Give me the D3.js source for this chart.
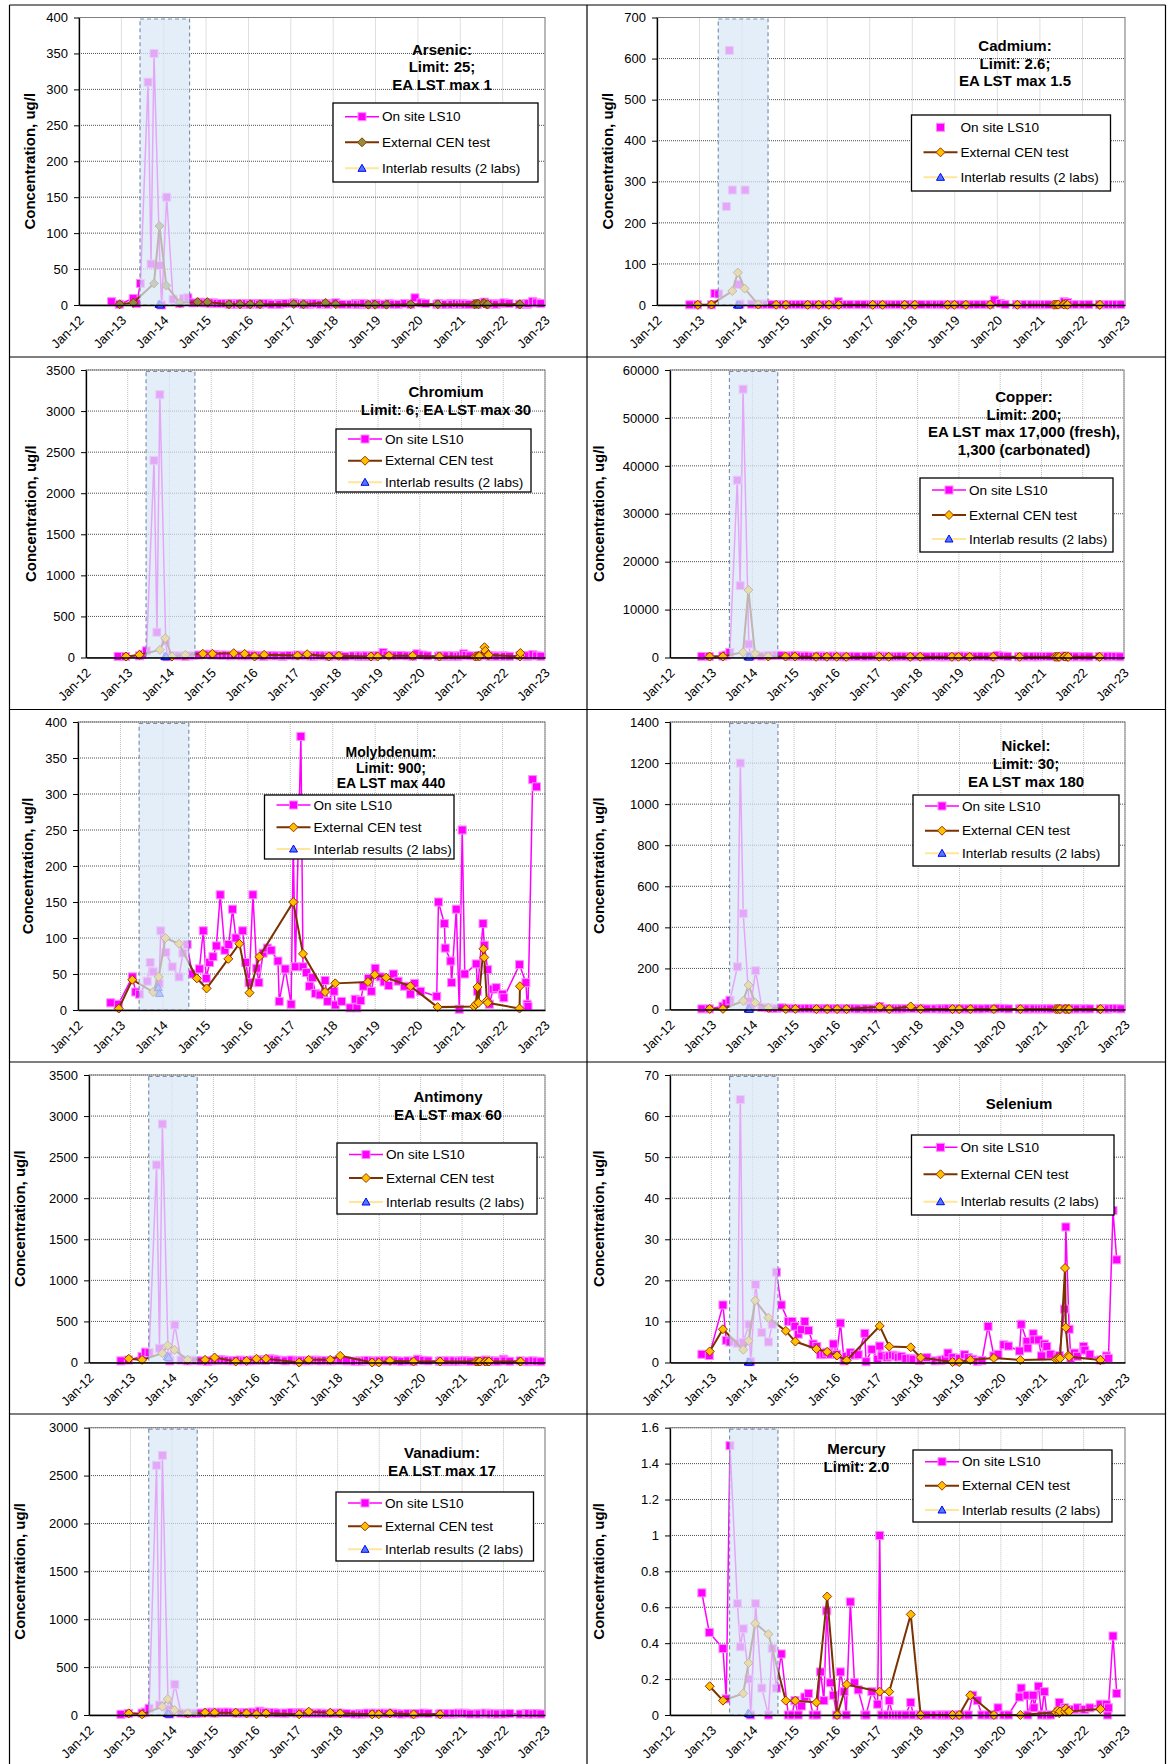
<!DOCTYPE html>
<html lang="en">
<head>
<meta charset="utf-8">
<title>Leachate concentrations by metal</title>
<script src="https://cdn.jsdelivr.net/npm/d3@7"></script>
<style>
  body { margin: 0; background: #fff; }
  svg text { font-family: "Liberation Sans", Arial, sans-serif; }
</style>
</head>
<body>
<svg width="1168" height="1764"></svg>
<script>

// ---- data (decimal years) ----
var yearTicks = [2012, 2013, 2014, 2015, 2016, 2017, 2018, 2019, 2020, 2021, 2022, 2023];
var yearLabels = ["Jan-12", "Jan-13", "Jan-14", "Jan-15", "Jan-16", "Jan-17",
                  "Jan-18", "Jan-19", "Jan-20", "Jan-21", "Jan-22", "Jan-23"];
var trialPeriod = [2013.44, 2014.61];
var legendLabels = ["On site LS10", "External CEN test", "Interlab results (2 labs)"];
var yTitle = "Concentration, ug/l";

var metals = ["Arsenic", "Cadmium", "Chromium", "Copper", "Molybdenum",
              "Nickel", "Antimony", "Selenium", "Vanadium", "Mercury"];
var titleLines = [
  ["Arsenic:", "Limit: 25;", "EA LST max 1"],
  ["Cadmium:", "Limit: 2.6;", "EA LST max 1.5"],
  ["Chromium", "Limit: 6; EA LST max 30"],
  ["Copper:", "Limit: 200;", "EA LST max 17,000 (fresh),", "1,300 (carbonated)"],
  ["Molybdenum:", "Limit: 900;", "EA LST max 440"],
  ["Nickel:", "Limit: 30;", "EA LST max 180"],
  ["Antimony", "EA LST max 60"],
  ["Selenium"],
  ["Vanadium:", "EA LST max 17"],
  ["Mercury", "Limit: 2.0"]
];
var yMax  = [400, 700, 3500, 60000, 400, 1400, 3500, 70, 3000, 1.6];
var yStep = [50, 100, 500, 10000, 50, 200, 500, 10, 500, 0.2];

// on-site LS10 sampling dates
var lsDates = [
  2012.77, 2012.95, 2013.28, 2013.36, 2013.45, 2013.63, 2013.70, 2013.77, 2013.91, 2013.95,
  2014.07, 2014.22, 2014.38, 2014.47, 2014.57, 2014.69, 2014.86, 2014.95, 2015.02, 2015.10,
  2015.18, 2015.26, 2015.35, 2015.46, 2015.55, 2015.64, 2015.72, 2015.79, 2015.88, 2015.95,
  2016.03, 2016.12, 2016.21, 2016.26, 2016.36, 2016.46, 2016.55, 2016.71, 2016.74, 2016.88,
  2017.02, 2017.07, 2017.12, 2017.25, 2017.30, 2017.38, 2017.45, 2017.52, 2017.59, 2017.70,
  2017.82, 2017.88, 2018.03, 2018.06, 2018.21, 2018.41, 2018.53, 2018.57, 2018.66, 2018.72,
  2018.84, 2018.91, 2019.00, 2019.12, 2019.21, 2019.32, 2019.43, 2019.54, 2019.69, 2019.83,
  2019.93, 2020.07, 2020.18, 2020.45, 2020.49, 2020.63, 2020.65, 2020.78, 2020.80, 2020.91,
  2020.98, 2021.05, 2021.11, 2021.20, 2021.38, 2021.41, 2021.54, 2021.57, 2021.65, 2021.69,
  2021.78, 2021.85, 2022.00, 2022.03, 2022.15, 2022.40, 2022.55, 2022.58, 2022.60, 2022.71,
  2022.80, 2022.90
];

var lsArsenic = [
  4.6, 1, 9, 2, 30, 310, 57, 350, 55, 0,
  150, 8, 2, 9, 10, 3, 4, 3, 3, 2,
  3, 2, 2, 2, 1, 2, 1, 2, 1, 2,
  1, 2, 2, 1, 2, 2, 1, 2, 1, 2,
  2, 3, 2, 2, 1, 2, 1, 2, 2, 1,
  2, 1, 2, 3, 1, 1, 2, 1, 1, 2,
  1, 1, 2, 1, 1, 2, 1, 1, 2, 1,
  10, 3, 2, 1, 2, 1, 1, 2, 1, 2,
  1, 2, 1, 1, 2, 1, 3, 4, 2, 1,
  2, 1, 2, 3, 2, 1, 2, 1, 2, 5,
  3, 2
];
var lsCadmium = [
  0.5, 0.5, 0.5, 28, 27, 240, 620, 280, 50, 2,
  280, 2, 2, 2, 2, 1, 1, 1, 1, 1,
  1, 1, 1, 1, 1, 1, 1, 1, 1, 1,
  1, 1, 1, 8, 1, 1, 1, 1, 1, 1,
  1, 1, 1, 1, 1, 1, 1, 1, 1, 1,
  1, 1, 1, 1, 1, 1, 1, 1, 1, 1,
  1, 1, 1, 1, 1, 1, 1, 1, 1, 1,
  12, 4, 1, 1, 1, 1, 1, 1, 1, 1,
  1, 1, 1, 1, 1, 1, 2, 8, 6, 1,
  1, 1, 1, 1, 1, 1, 1, 1, 1, 1,
  1, 1
];
var lsChromium = [
  12, 12, 20, 40, 81, 2400, 308, 3200, 200, 10,
  25, 20, 15, 20, 25, 30, 35, 40, 30, 35,
  30, 25, 30, 20, 25, 30, 20, 25, 20, 30,
  25, 20, 25, 15, 20, 25, 20, 15, 20, 25,
  20, 30, 25, 20, 25, 20, 15, 20, 25, 20,
  15, 20, 25, 20, 15, 20, 15, 20, 15, 20,
  15, 20, 25, 60, 30, 25, 20, 25, 20, 15,
  45, 30, 20, 15, 20, 15, 20, 15, 20, 15,
  20, 45, 25, 20, 15, 20, 25, 30, 20, 15,
  20, 15, 20, 15, 15, 20, 25, 15, 20, 35,
  20, 15
];
var lsCopper = [
  200, 200, 300, 500, 1040, 37000, 15000, 56000, 2800, 300,
  500, 300, 400, 400, 500, 400, 300, 300, 400, 300,
  300, 250, 300, 200, 250, 300, 200, 250, 200, 300,
  250, 200, 250, 150, 200, 250, 200, 150, 200, 250,
  200, 300, 250, 200, 250, 200, 150, 200, 250, 200,
  150, 200, 250, 200, 150, 200, 150, 200, 150, 200,
  150, 200, 250, 300, 200, 250, 200, 250, 200, 150,
  450, 300, 200, 150, 200, 150, 200, 150, 200, 150,
  200, 250, 200, 200, 150, 200, 250, 300, 200, 150,
  200, 150, 200, 150, 150, 200, 250, 150, 200, 250,
  200, 150
];
var lsMolybdenum = [
  10, 8, 46, 25, 22, 40, 66, 53, 37, 110,
  80, 60, 46, 79, 91, 50, 57, 110, 44, 66,
  74, 89, 160, 83, 91, 140, 100, null, 110, 66,
  38, 160, 58, 38, 79, 86, 83, 68, 12, 57,
  8, 230, 60, 380, 60, 52, 33, 45, 23, 21,
  41, 12, 26, 7, 12, 3, 15, 3, 13, 33,
  44, 26, 58, 46, 39, 34, 50, 40, 33, 22,
  37, 26, null, 19, 150, 120, 86, 68, 38, 140,
  1, 250, 50, null, 64, 26, 120, 90, 56, 8,
  29, 31, 22, 17, null, 63, 38, 8, 5, 320,
  310, null
];
var lsNickel = [
  3, 3, 16, 30, 45, 208, 1200, 468, 40, 13,
  189, 10, 8, 5, 5, 8, 6, 5, 5, 4,
  5, 4, 5, 4, 3, 4, 3, 4, 3, 4,
  4, 3, 4, 3, 4, 4, 3, 3, 4, 3,
  3, 15, 5, 4, 4, 3, 4, 3, 3, 4,
  5, 4, 6, 4, 3, 3, 4, 3, 3, 4,
  3, 3, 4, 3, 3, 4, 3, 3, 4, 3,
  6, 4, 3, 3, 4, 3, 3, 4, 3, 3,
  3, 4, 3, 3, 4, 3, 4, 5, 3, 3,
  3, 3, 4, 3, 3, 3, 4, 3, 3, 5,
  4, 3
];
var lsAntimony = [
  20, 30, 73, 126, 120, 2405, 174, 2903, 80, 20,
  458, 30, 20, 30, 25, 20, 15, 20, 30, 25,
  35, 30, 25, 20, 25, 30, 20, 25, 20, 30,
  25, 35, 30, 25, 45, 40, 30, 25, 20, 30,
  20, 25, 20, 25, 20, 25, 30, 25, 20, 25,
  20, 25, 30, 25, 20, 15, 20, 15, 20, 25,
  20, 15, 20, 25, 20, 25, 20, 15, 20, 15,
  40, 25, 20, 15, 20, 15, 20, 15, 20, 15,
  20, 25, 20, 15, 20, 15, 25, 30, 20, 15,
  20, 15, 40, 20, 15, 20, 15, 10, 15, 20,
  15, 10
];
var lsSelenium = [
  2, 1.7, 14, 5.4, 5, 4.7, 64, 4.9, 9.3, 0.2,
  19, 7.3, 5, 9.3, 22, 14, 10, 10, 8.8, 6.9,
  8, 10, 7.8, 4.5, 3.9, 1.9, 2, 2.5, 2, 4.5,
  2, 9.6, 0.4, 1.5, 2.4, 1.8, 1.9, 7.1, 0.2, 3.2,
  0.8, 4, 1.6, 1.2, 1.6, 1.8, 1.6, 1.3, 1.5, 1.0,
  1.0, 0.8, 0.5, 0.6, 1.2, 0.4, 0.5, 0.6, 0.8, 2.3,
  1.2, 0.3, 1.0, 1.9, 1.2, 0.8, 0.3, 0.5, 8.8, 1.6,
  2, 4.3, 4.0, 2.8, 9.3, 5.1, 3.5, 7, 5.5, 5.5,
  1.6, 4.5, 3.9, 2.0, 1.5, 1.7, 13, 33, 8.1, 1.0,
  2.3, 1.5, 3.9, 3.0, 2.0, 0.6, 1.6, 1.0, 1.0, 37,
  25, null
];
var lsVanadium = [
  7, 15, 20, 30, 70, 2607, 104, 2711, 60, 10,
  320, 20, 15, 20, 15, 20, 25, 30, 20, 25,
  30, 25, 30, 25, 20, 25, 20, 25, 20, 30,
  25, 40, 30, 25, 20, 25, 20, 15, 20, 25,
  20, 25, 20, 15, 20, 15, 20, 15, 20, 15,
  15, 20, 15, 20, 15, 10, 15, 10, 15, 20,
  15, 20, 15, 20, 15, 20, 15, 10, 15, 10,
  15, 20, 15, 10, 15, 10, 15, 10, 15, 20,
  15, 20, 15, 10, 15, 10, 15, 20, 15, 10,
  15, 10, 15, 10, 15, 10, 15, 10, 15, 10,
  15, 10
];
var lsMercury = [
  0.68, 0.46, 0.37, 0.09, 1.5, 0.62, 0.38, 0.48, 0.2, 0,
  0.62, 0.15, 0, 0.37, 0.15, 0.34, 0, 0, 0.08, 0,
  0.05, 0.1, 0.12, 0, 0, 0.24, 0.08, 0.58, 0.18, 0.11,
  0, 0.24, 0.13, 0, 0.63, 0.18, 0.14, 0, 0, 0.13,
  0.06, 1.0, 0, 0, 0.08, 0, 0, 0, 0, 0,
  0.07, 0, 0, 0, 0, 0, 0, 0, 0, 0,
  0, 0, 0, 0, 0, 0.11, 0.08, 0, 0, 0,
  0.04, 0, 0, 0.1, 0.15, 0.11, 0, 0.11, 0.04, 0.16,
  0, 0.13, 0, 0, 0.02, 0.07, 0.04, 0.03, 0.03, 0.03,
  0.03, 0.04, 0.03, 0.03, 0.04, 0.06, 0.06, 0, 0.04, 0.44,
  0.12, null
];

// external CEN test dates
var cenDates = [
  2012.96, 2013.28, 2013.77, 2013.90, 2014.06, 2014.38, 2014.80, 2015.03, 2015.54, 2015.80,
  2016.04, 2016.27, 2017.07, 2017.30, 2017.82, 2018.06, 2018.83, 2018.99, 2019.26, 2019.83,
  2020.47, 2021.33, 2021.37, 2021.41, 2021.43, 2021.55, 2021.57, 2021.63, 2021.65, 2022.40,
  2022.41
];
var cenArsenic = [1, 3, 30, 110, 27, 3, 4, 4, 1, 1, 1, 1, 1.5, 1, 3, 1, 0.5, 0.5, 0.5, 1,
                  1, 1, 1.5, 2, 1, 3, 2, 1, 1, 1, 1];
var cenCadmium = [0.5, 1, 34, 79, 40, 1, 0.5, 0.5, 0.5, 0.5, 0.5, 0.5, 0.5, 0.5, 0.5, 0.5,
                  0.5, 0.5, 0.5, 0.5, 0.5, 0.5, 1, 1, 1, 2, 1, 1, 0.5, 0.5, 0.5];
var cenChromium = [12, 32, 93, 235, 12, 32, 45, 45, 53, 45, 12, 32, 24, 40, 12, 20, 12, 12,
                   20, 20, 12, 12, 15, 20, 15, 125, 81, 32, 30, 12, 55];
var cenCopper = [200, 200, 1100, 14100, 760, 200, 200, 200, 150, 150, 150, 150, 150, 150,
                 150, 150, 150, 150, 150, 150, 150, 150, 150, 150, 150, 200, 200, 150, 150,
                 150, 150];
var cenMolybdenum = [2, 42, 25, 46, 100, 92, 44, 30, 71, 92, 24, 74, 150, 78, 25, 37, 39, 49,
                     45, 33, 4, 5, 8, 32, 10, 85, 73, 13, 10, 2, 33];
var cenNickel = [3, 3, 42, 119, 33, 8, 2, 3, 2, 2, 2, 2, 13, 2, 15, 2, 2, 2, 2, 2, 2, 2, 2, 3,
                 2, 3, 2, 2, 2, 2, 2];
var cenAntimony = [45, 32, 113, 207, 154, 32, 32, 61, 12, 20, 45, 45, 0, 32, 32, 81, 0, 0, 20,
                   12, 12, 12, 12, 12, 12, 12, 12, 12, 12, 12, 12];
var cenSelenium = [2.7, 8.1, 3.1, 5.3, 15.1, 10.9, 7.7, 5.1, 3.3, 2.6, 1.7, 0.5, 8.9, 3.9,
                   3.7, 1.2, 0.1, 0.1, 0.6, 1.1, 0.6, 0.8, 1.0, 1.2, 1.0, 23, 8.5, 1.7, 1.4,
                   0.6, 0.6];
var cenVanadium = [17, 7, 87, 167, 52, 17, 24, 24, 24, 17, 7, 17, 7, 35, 24, 17, 7, 7, 17, 7,
                   7, null, null, null, null, null, null, null, null, null, null];
var cenMercury = [0.16, 0.08, 0.12, 0.29, 0.51, 0.45, 0.08, 0.08, 0.07, 0.66, 0, 0.17, 0.13,
                  0.13, 0.56, 0, 0, 0, 0.11, 0, 0, 0.015, 0.025, 0.01, 0.02, 0.02, 0.035,
                  0.02, 0.02, 0.033, 0.033];

// interlab (2 labs)
var labDates = [2013.89, 2013.92];
var labArsenic = [1, 0], labCadmium = [0, 0], labChromium = [10, 10], labCopper = [150, 100],
    labMolybdenum = [31, 23], labNickel = [2, 1], labAntimony = [73, 60],
    labSelenium = [0.1, 0.1], labVanadium = [15, 10], labMercury = [0.01, 0.005];

var lsData  = [lsArsenic, lsCadmium, lsChromium, lsCopper, lsMolybdenum,
               lsNickel, lsAntimony, lsSelenium, lsVanadium, lsMercury];
var cenData = [cenArsenic, cenCadmium, cenChromium, cenCopper, cenMolybdenum,
               cenNickel, cenAntimony, cenSelenium, cenVanadium, cenMercury];
var labData = [labArsenic, labCadmium, labChromium, labCopper, labMolybdenum,
               labNickel, labAntimony, labSelenium, labVanadium, labMercury];

// ---- layout (page pixels) ----
// l/r/t/b = plot area, yt = y title x, tx/ty = title centre / first baseline
var layout = [
  {l: 79,  r: 545,  t: 17.5,   b: 305,    yt: 30,   tx: 442,   ty: 54.5,   ts: 15, tl: 17.5, lg: [333, 103, 205, 79],      rows: [13.7, 39.3, 65.3]},
  {l: 657, r: 1125, t: 17.5,   b: 305,    yt: 608,  tx: 1015,  ty: 51,     ts: 15, tl: 17.5, lg: [911.5, 115, 199, 76],    rows: [12.3, 37.3, 62.3]},
  {l: 86,  r: 545,  t: 370,    b: 657.5,  yt: 31,   tx: 446,   ty: 396.5,  ts: 15, tl: 18,   lg: [336, 429, 195, 63],      rows: [10, 31.7, 53.3]},
  {l: 670, r: 1124, t: 370,    b: 657.5,  yt: 599,  tx: 1024,  ty: 402,    ts: 15, tl: 17.5, lg: [920, 478, 193, 74],      rows: [12, 37, 61]},
  {l: 78,  r: 545,  t: 722,    b: 1010,   yt: 28,   tx: 391,   ty: 757,    ts: 14, tl: 15.7, lg: [264.5, 795, 189.5, 64],  rows: [10, 32.3, 54]},
  {l: 670, r: 1125, t: 722,    b: 1009.5, yt: 599,  tx: 1026,  ty: 750.5,  ts: 15, tl: 18,   lg: [913, 795, 206, 71],      rows: [11, 35.7, 58.3]},
  {l: 89,  r: 545,  t: 1075,   b: 1362.5, yt: 19.6, tx: 448,   ty: 1101.5, ts: 15, tl: 18,   lg: [337, 1143, 200, 71],     rows: [11.6, 35, 59]},
  {l: 670, r: 1125, t: 1075,   b: 1362.5, yt: 599,  tx: 1019,  ty: 1108.5, ts: 15, tl: 18,   lg: [911.5, 1135, 202.5, 80], rows: [12.3, 39.3, 66.7]},
  {l: 89,  r: 545,  t: 1427.7, b: 1715,   yt: 19.6, tx: 442,   ty: 1457.5, ts: 15, tl: 18,   lg: [336, 1492, 197.5, 69],   rows: [11, 34.3, 57.3]},
  {l: 670, r: 1125, t: 1427.7, b: 1715,   yt: 599,  tx: 856.5, ty: 1454,   ts: 15, tl: 17.5, lg: [913, 1450, 199, 72],     rows: [11.7, 35.7, 60]}
];

var lsColor = "#ff00ff", lsEdge = "#ff8cff";
var cenLine = "#7a3300", cenEdge = "#993300";
var labLine = "#ffe699", labFill = "#4d7cff", labEdge = "#0000ff";
var diamondFill = metals.map(function(m) { return m === "Arsenic" ? "#8f8f3c" : "#ffc000"; });
var lsJoined = metals.map(function(m) { return m !== "Cadmium"; });

var svg = d3.select("svg");
var font = '"Liberation Sans", Arial, sans-serif';

function pairs(dates, values) {
  return dates.map(function(d, i) { return [d, values[i]]; })
    .filter(function(d) { return d[1] != null; });
}
var diamond = "M0,-4.5L4.5,0L0,4.5L-4.5,0Z";
var triangle = "M0,-4L4,3L-4,3Z";

// frame lines round the panels
var frameLines = [
  [9.5, 5, 1165.5, 5], [9.5, 357, 1165.5, 357], [9.5, 709.5, 1165.5, 709.5],
  [9.5, 1062, 1165.5, 1062], [9.5, 1414, 1165.5, 1414],
  [9.5, 5, 9.5, 1764], [587, 5, 587, 1764], [1165.5, 5, 1165.5, 1764]
];
svg.append("g").selectAll("line").data(frameLines).join("line")
  .attr("x1", d => d[0]).attr("y1", d => d[1]).attr("x2", d => d[2]).attr("y2", d => d[3])
  .attr("stroke", "#000").attr("stroke-width", 1.2);

function drawSquares(sel, data, x, y) {
  sel.selectAll("rect").data(data).join("rect")
    .attr("x", d => x(d[0]) - 4).attr("y", d => y(d[1]) - 4)
    .attr("width", 8).attr("height", 8)
    .attr("fill", lsColor).attr("stroke", lsEdge).attr("stroke-width", 1);
}

metals.forEach(function(name, i) {
  var b = layout[i];
  var x = d3.scaleLinear().domain([yearTicks[0], yearTicks[yearTicks.length - 1]]).range([b.l, b.r]);
  var y = d3.scaleLinear().domain([0, yMax[i]]).range([b.b, b.t]);
  var n = Math.round(yMax[i] / yStep[i]);
  var yTicks = d3.range(n + 1).map(function(k) { return +(k * yStep[i]).toFixed(2); });
  var g = svg.append("g").attr("class", "panel");

  // gridlines
  g.append("g").selectAll("line").data(yearTicks.slice(1)).join("line")
    .attr("x1", d => x(d)).attr("x2", d => x(d)).attr("y1", b.t).attr("y2", b.b)
    .attr("stroke", "#bdbdbd").attr("stroke-dasharray", "1,1");
  g.append("g").selectAll("line").data(yTicks.slice(1)).join("line")
    .attr("x1", b.l).attr("x2", b.r).attr("y1", d => y(d)).attr("y2", d => y(d))
    .attr("stroke", "#4d4d4d").attr("stroke-dasharray", "1,1");
  g.append("rect").attr("x", b.l).attr("y", b.t).attr("width", b.r - b.l).attr("height", b.b - b.t)
    .attr("fill", "none").attr("stroke", "#808080");

  var line = d3.line().x(d => x(d[0])).y(d => y(d[1]));

  // on site LS10
  var ls = pairs(lsDates, lsData[i]);
  if (lsJoined[i]) {
    g.append("path").datum(ls).attr("d", line)
      .attr("fill", "none").attr("stroke", lsColor).attr("stroke-width", 1.5);
  }
  drawSquares(g.append("g"), ls, x, y);

  // external CEN test
  var cen = pairs(cenDates, cenData[i]);
  g.append("path").datum(cen).attr("d", line)
    .attr("fill", "none").attr("stroke", cenLine).attr("stroke-width", 2);
  g.append("g").selectAll("path").data(cen).join("path")
    .attr("d", diamond).attr("transform", d => "translate(" + x(d[0]) + "," + y(d[1]) + ")")
    .attr("fill", diamondFill[i]).attr("stroke", cenEdge).attr("stroke-width", 1);

  // interlab
  var lab = pairs(labDates, labData[i]);
  g.append("path").datum(lab).attr("d", line)
    .attr("fill", "none").attr("stroke", labLine).attr("stroke-width", 2);
  g.append("g").selectAll("path").data(lab).join("path")
    .attr("d", triangle).attr("transform", d => "translate(" + x(d[0]) + "," + y(d[1]) + ")")
    .attr("fill", labFill).attr("stroke", labEdge).attr("stroke-width", 1);

  // shaded trial period
  g.append("rect")
    .attr("x", x(trialPeriod[0])).attr("width", x(trialPeriod[1]) - x(trialPeriod[0]))
    .attr("y", b.t + 1.5).attr("height", b.b - b.t - 1.5)
    .attr("fill", "#dae8f5").attr("fill-opacity", 0.72)
    .attr("stroke", "#7d93b2").attr("stroke-width", 1.2).attr("stroke-dasharray", "4,3");

  // axes
  var yAxis = g.append("g").attr("transform", "translate(" + b.l + ",0)")
    .call(d3.axisLeft(y).tickValues(yTicks).tickSizeInner(5).tickSizeOuter(0)
      .tickPadding(6).tickFormat(d => String(d)));
  yAxis.attr("font-size", 13).attr("font-family", font);
  yAxis.select(".domain").attr("stroke", "#000").attr("stroke-width", 1.3);
  yAxis.selectAll("text").attr("fill", "#000");

  var xAxis = g.append("g").attr("transform", "translate(0," + b.b + ")")
    .call(d3.axisBottom(x).tickValues(yearTicks).tickSize(0).tickFormat((d, k) => yearLabels[k]));
  xAxis.attr("font-size", 13).attr("font-family", font);
  xAxis.select(".domain").attr("stroke", "#000").attr("stroke-width", 1.3);
  xAxis.selectAll("text").attr("fill", "#000")
    .attr("x", 0).attr("y", 0).attr("dy", "0.35em").attr("text-anchor", "end")
    .attr("transform", "translate(2,13) rotate(-45)");

  // y axis title
  g.append("text")
    .attr("transform", "translate(" + b.yt + "," + (b.t + b.b) / 2 + ") rotate(-90)")
    .attr("text-anchor", "middle").attr("dy", "0.35em")
    .attr("font-size", 15).attr("font-weight", "bold")
    .text(yTitle);

  // chart title
  g.append("g").selectAll("text").data(titleLines[i]).join("text")
    .attr("x", b.tx).attr("y", (d, k) => b.ty + k * b.tl)
    .attr("text-anchor", "middle").attr("font-size", b.ts).attr("font-weight", "bold")
    .text(d => d);

  // legend
  var lg = g.append("g").attr("transform", "translate(" + b.lg[0] + "," + b.lg[1] + ")");
  lg.append("rect").attr("width", b.lg[2]).attr("height", b.lg[3])
    .attr("fill", "#fff").attr("stroke", "#000").attr("stroke-width", 1.3);
  var sx0 = 12, sx1 = 46, sm = 29;
  b.rows.forEach(function(ry, k) {
    var row = lg.append("g").attr("transform", "translate(0," + ry + ")");
    if (k === 0) {
      if (lsJoined[i]) {
        row.append("line").attr("x1", sx0).attr("x2", sx1)
          .attr("stroke", lsColor).attr("stroke-width", 1.5);
      }
      row.append("rect").attr("x", sm - 4).attr("y", -4).attr("width", 8).attr("height", 8)
        .attr("fill", lsColor).attr("stroke", lsEdge);
    } else if (k === 1) {
      row.append("line").attr("x1", sx0).attr("x2", sx1)
        .attr("stroke", cenLine).attr("stroke-width", 2);
      row.append("path").attr("d", diamond).attr("transform", "translate(" + sm + ",0)")
        .attr("fill", diamondFill[i]).attr("stroke", cenEdge);
    } else {
      row.append("line").attr("x1", sx0).attr("x2", sx1)
        .attr("stroke", labLine).attr("stroke-width", 2);
      row.append("path").attr("d", triangle).attr("transform", "translate(" + sm + ",0)")
        .attr("fill", labFill).attr("stroke", labEdge);
    }
    row.append("text").attr("x", 49).attr("dy", "0.35em")
      .attr("font-size", 13.6).text(legendLabels[k]);
  });
});

</script>
</body>
</html>
